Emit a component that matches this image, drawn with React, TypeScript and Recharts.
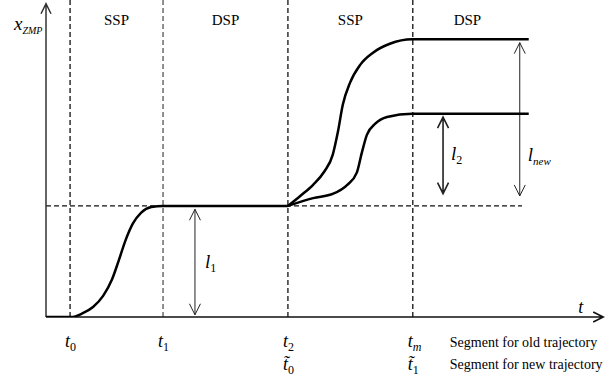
import React from 'react';
import { LineChart, Line, XAxis, YAxis, ReferenceLine, ReferenceArea } from 'recharts';

const FONT = '"Liberation Serif", "Times New Roman", serif';

// time marks on the t axis
const markTimes = [0.43, 2.09, 4.32, 6.55];
const oldSubs = ['0', '1', '2', 'm'];
const newSubs = ['', '', '0', '1'];
const segmentNotes = ['Segment for old trajectory', 'Segment for new trajectory'];

// support phases between the marks
const phaseNames = ['SSP', 'DSP', 'SSP', 'DSP'];
const phaseEdges = [0.43, 2.09, 4.32, 6.55, 8.5];

// first step (shared by both trajectories)
const firstStepX = [0, 0.45, 0.64, 0.84, 1.02, 1.18, 1.3, 1.42, 1.55, 1.7, 1.88, 2.09, 4.32];
const firstStepY = [0, 0, 0.03, 0.09, 0.19, 0.34, 0.51, 0.69, 0.84, 0.94, 0.99, 1, 1];

// new trajectory (larger step)
const newStepX = [4.32, 4.54, 4.77, 4.97, 5.12, 5.21, 5.3, 5.43, 5.61, 5.84, 6.14, 6.54, 8.62];
const newStepY = [1, 1.09, 1.19, 1.31, 1.46, 1.66, 1.91, 2.11, 2.27, 2.38, 2.46, 2.5, 2.5];

// old trajectory
const oldStepX = [4.32, 4.77, 5.13, 5.38, 5.55, 5.64, 5.73, 5.88, 6.09, 6.54, 8.62];
const oldStepY = [1, 1.07, 1.11, 1.19, 1.3, 1.48, 1.64, 1.74, 1.8, 1.83, 1.83];

const levelOne = 1;
const levelLineEnd = 8.5;

// step length arrows
const arrowX = [2.66, 7.09, 8.46];
const arrowFrom = [0.02, 1.11, 1.09];
const arrowTo = [0.97, 1.8, 2.47];
const arrowSubs = ['1', '2', 'new'];
const arrowWidths = [1, 1.6, 1];
const arrowLabelAt = [0.56, 0.56, 0.77];

const toPoints = (xs: number[], ys: number[]) => xs.map((x, i) => ({ x, y: ys[i] }));

const arrowShape = (both: boolean, stroke: string, width: number, half = 5.5, len = 11) => (props: any) => {
  const { x1, y1, x2, y2 } = props;
  const dx = x2 - x1;
  const dy = y2 - y1;
  const d = Math.hypot(dx, dy) || 1;
  const ux = dx / d;
  const uy = dy / d;
  const head = (tx: number, ty: number, vx: number, vy: number) =>
    `M${tx - vx * len - vy * half},${ty - vy * len + vx * half}L${tx},${ty}L${tx - vx * len + vy * half},${ty - vy * len - vx * half}`;
  let path = `M${x1},${y1}L${x2},${y2}` + head(x2, y2, ux, uy);
  if (both) path += head(x1, y1, -ux, -uy);
  return <path d={path} stroke={stroke} strokeWidth={width} fill="none" />;
};

const SubText = ({ x, y, main, sub, size = 18, subSize = 11, subItalic = false, dy = 4 }: any) => (
  <text x={x} y={y} fontFamily={FONT} fill="#000">
    <tspan fontStyle="italic" fontSize={size}>{main}</tspan>
    <tspan fontSize={subSize} dy={dy} fontStyle={subItalic ? 'italic' : 'normal'}>{sub}</tspan>
  </text>
);

const MarkTick = ({ x, y, payload }: any) => {
  const i = markTimes.indexOf(payload.value);
  if (i < 0) return null;
  const last = i === markTimes.length - 1;
  return (
    <g>
      <SubText x={x - 5} y={y + 22} main="t" sub={oldSubs[i]} size={18} subSize={12} subItalic={oldSubs[i] === 'm'} />
      {newSubs[i] && (
        <SubText x={x - 5} y={y + 45} main={'t\u0303'} sub={newSubs[i]} size={18} subSize={12} />
      )}
      {last && (
        <g fontFamily={FONT} fontSize={14} fill="#000">
          <text x={x + 37} y={y + 22}>{segmentNotes[0]}</text>
          <text x={x + 37} y={y + 44}>{segmentNotes[1]}</text>
        </g>
      )}
    </g>
  );
};

export default function App() {
  return (
    <div style={{ position: 'absolute', left: 0, top: 0, width: 613, height: 383, background: '#fff' }}>
      <LineChart width={613} height={383} margin={{ top: 6, right: 7, bottom: 6, left: 46 }}>
        <XAxis
          type="number"
          dataKey="x"
          domain={[0, 10]}
          allowDataOverflow
          ticks={markTimes}
          interval={0}
          height={60}
          axisLine={false}
          tickLine={false}
          tick={<MarkTick />}
        />
        <YAxis type="number" dataKey="y" domain={[0, 2.8]} allowDataOverflow hide />

        {phaseNames.map((name, i) => (
          <ReferenceArea
            key={'ph' + i}
            x1={phaseEdges[i]}
            x2={phaseEdges[i + 1]}
            fill="none"
            stroke="none"
            ifOverflow="visible"
            label={{ value: name, position: 'insideTop', offset: 8, fontFamily: FONT, fontSize: 15, fill: '#000' }}
          />
        ))}

        {markTimes.map((t, i) => (
          <ReferenceLine
            key={'mk' + i}
            segment={[{ x: t, y: 0 }, { x: t, y: 2.86 }]}
            stroke={i === 1 ? '#555' : '#111'}
            strokeWidth={1.3}
            strokeDasharray="5 3"
            ifOverflow="visible"
          />
        ))}

        <ReferenceLine
          segment={[{ x: 0, y: levelOne }, { x: levelLineEnd, y: levelOne }]}
          stroke="#111"
          strokeWidth={1.3}
          strokeDasharray="5 3"
          ifOverflow="visible"
        />

        {/* axes with arrow heads */}
        <ReferenceLine
          segment={[{ x: 0, y: 0 }, { x: 0, y: 2.82 }]}
          shape={arrowShape(false, '#333', 1.5, 5, 10)}
          ifOverflow="visible"
          label={{
            content: (p: any) => (
              <SubText x={p.viewBox.x - 32} y={p.viewBox.y + 26} main="x" sub="ZMP" size={19} subSize={10} subItalic />
            ),
          }}
        />
        <ReferenceLine
          segment={[{ x: 0, y: 0 }, { x: 9.95, y: 0 }]}
          shape={arrowShape(false, '#111', 1.6, 5, 10)}
          ifOverflow="visible"
          label={{
            content: (p: any) => (
              <text x={p.viewBox.x + p.viewBox.width - 25} y={p.viewBox.y - 4} fontFamily={FONT} fontStyle="italic" fontSize={18}>
                t
              </text>
            ),
          }}
        />

        {arrowX.map((ax, i) => (
          <ReferenceLine
            key={'ar' + i}
            segment={[{ x: ax, y: arrowFrom[i] }, { x: ax, y: arrowTo[i] }]}
            shape={arrowShape(true, '#222', arrowWidths[i])}
            ifOverflow="visible"
            label={{
              content: (p: any) => (
                <SubText
                  x={p.viewBox.x + (i === 0 ? 10 : 8)}
                  y={p.viewBox.y + p.viewBox.height * arrowLabelAt[i]}
                  main="l"
                  sub={arrowSubs[i]}
                  size={19}
                  subSize={i === 2 ? 11 : 12}
                  subItalic={i === 2}
                />
              ),
            }}
          />
        ))}

        <Line data={toPoints(firstStepX, firstStepY)} dataKey="y" type="monotone" stroke="#000" strokeWidth={2.5} dot={false} isAnimationActive={false} />
        <Line data={toPoints(newStepX, newStepY)} dataKey="y" type="monotone" stroke="#000" strokeWidth={2.5} dot={false} isAnimationActive={false} />
        <Line data={toPoints(oldStepX, oldStepY)} dataKey="y" type="monotone" stroke="#000" strokeWidth={2.5} dot={false} isAnimationActive={false} />
      </LineChart>
    </div>
  );
}
